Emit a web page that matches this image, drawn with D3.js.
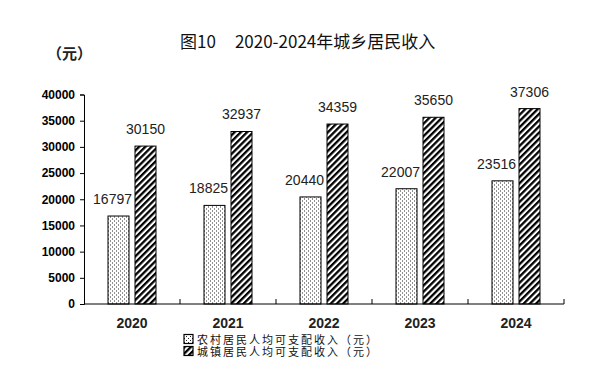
<!DOCTYPE html>
<html>
<head>
<meta charset="utf-8">
<script src="https://cdn.jsdelivr.net/npm/d3@7"></script>
<style>
body{margin:0;background:#fff;}
svg{display:block;}
</style>
</head>
<body>
<svg id="chart" width="610" height="371"></svg>
<script>
// values
const years = ['2020','2021','2022','2023','2024'];
const rural = [16797, 18825, 20440, 22007, 23516];
const urban = [30150, 32937, 34359, 35650, 37306];
const yTicks = [0, 5000, 10000, 15000, 20000, 25000, 30000, 35000, 40000];
const seriesNames = ['农村居民人均可支配收入（元）', '城镇居民人均可支配收入（元）'];

const svg = d3.select('#chart');
const margin = {top: 94.5, left: 84, right: 46, bottom: 67};
const width = 610 - margin.left - margin.right;
const height = 371 - margin.top - margin.bottom;
const cjk = '"Noto Sans CJK SC", sans-serif';
const arial = '"Liberation Sans", Arial, sans-serif';

// fill patterns
const defs = svg.append('defs');
const dots = defs.append('pattern')
	.attr('id', 'dots')
	.attr('patternUnits', 'userSpaceOnUse')
	.attr('width', 4).attr('height', 4);
dots.append('rect').attr('width', 4).attr('height', 4).attr('fill', '#fff');
dots.append('rect').attr('x', 0).attr('y', 0).attr('width', 1).attr('height', 1).attr('fill', '#222');
dots.append('rect').attr('x', 2).attr('y', 2).attr('width', 1).attr('height', 1).attr('fill', '#222');

const hatch = defs.append('pattern')
	.attr('id', 'hatch')
	.attr('patternUnits', 'userSpaceOnUse')
	.attr('width', 4.4).attr('height', 10)
	.attr('patternTransform', 'rotate(45)');
hatch.append('rect').attr('width', 4.4).attr('height', 10).attr('fill', '#fff');
hatch.append('rect').attr('width', 2.3).attr('height', 10).attr('fill', '#000');

const g = svg.append('g').attr('transform', 'translate(' + margin.left + ',' + margin.top + ')');

const x = d3.scaleBand().domain(years).range([0, width]);
const y = d3.scaleLinear().domain([0, 40000]).range([height, 0]);
const barW = 21;
const off = {rural: 24, urban: 51};

// title
svg.append('text')
	.attr('x', 180).attr('y', 48)
	.style('font-family', cjk).style('font-size', '17px').attr('fill', '#111')
	.text('图10')
	.append('tspan').attr('dx', 19).text('2020-2024年城乡居民收入');

svg.append('text')
	.attr('x', 47).attr('y', 59)
	.style('font-family', cjk).style('font-size', '15px').style('font-weight', 'bold').attr('fill', '#222')
	.text('（元）');

// bars
const data = years.map((yr, i) => ({year: yr, r: rural[i], u: urban[i]}));

g.selectAll('.bar-r').data(data).enter().append('rect')
	.attr('x', d => x(d.year) + off.rural)
	.attr('y', d => y(d.r))
	.attr('width', barW)
	.attr('height', d => height - y(d.r))
	.attr('fill', 'url(#dots)').attr('stroke', '#000').attr('stroke-width', 1);

g.selectAll('.bar-u').data(data).enter().append('rect')
	.attr('x', d => x(d.year) + off.urban)
	.attr('y', d => y(d.u))
	.attr('width', barW)
	.attr('height', d => height - y(d.u))
	.attr('fill', 'url(#hatch)').attr('stroke', '#000').attr('stroke-width', 1);

// value labels
g.selectAll('.lab-r').data(data).enter().append('text')
	.attr('x', d => x(d.year) + off.rural + barW + 3)
	.attr('y', d => y(d.r) - 12)
	.attr('text-anchor', 'end')
	.style('font-family', arial).style('font-size', '14px').attr('fill', '#222')
	.text(d => d.r);

g.selectAll('.lab-u').data(data).enter().append('text')
	.attr('x', d => x(d.year) + off.urban + barW / 2)
	.attr('y', d => y(d.u) - 12)
	.attr('text-anchor', 'middle')
	.style('font-family', arial).style('font-size', '14px').attr('fill', '#222')
	.text(d => d.u);

// y axis
const yAxis = g.append('g')
	.call(d3.axisLeft(y).tickValues(yTicks).tickFormat(d3.format('d')).tickSize(4).tickPadding(5));
yAxis.select('.domain').attr('stroke', '#000');
yAxis.selectAll('.tick line').attr('stroke', '#000');
yAxis.selectAll('text')
	.style('font-family', arial).style('font-size', '12px').style('font-weight', 'bold').attr('fill', '#000');

// x axis: baseline with small upward ticks between categories
const xAxis = g.append('g').attr('transform', 'translate(0,' + height + ')');
xAxis.append('line').attr('x1', 0).attr('x2', width).attr('stroke', '#000');
const bounds = years.map(yr => x(yr)).concat([width]).slice(1);
xAxis.selectAll('.sep').data(bounds).enter().append('line')
	.attr('x1', d => d).attr('x2', d => d)
	.attr('y1', 0).attr('y2', -5)
	.attr('stroke', '#000');
xAxis.selectAll('.xl').data(years).enter().append('text')
	.attr('x', d => x(d) + x.bandwidth() / 2)
	.attr('y', 24)
	.attr('text-anchor', 'middle')
	.style('font-family', arial).style('font-size', '14px').style('font-weight', 'bold').attr('fill', '#222')
	.text(d => d);

// legend
const legend = svg.append('g').attr('transform', 'translate(184,334)');
seriesNames.forEach((name, i) => {
	const row = legend.append('g').attr('transform', 'translate(0,' + (i * 12) + ')');
	row.append('rect')
		.attr('x', 0).attr('y', 0.5).attr('width', 9).attr('height', 9)
		.attr('fill', i === 0 ? 'url(#dots)' : 'url(#hatch)')
		.attr('stroke', '#000').attr('stroke-width', 1.2);
	row.append('text')
		.attr('x', 13).attr('y', 9.5)
		.style('font-family', cjk).style('font-size', '11px').style('letter-spacing', '2px').attr('fill', '#111')
		.text(name);
});
</script>
</body>
</html>
